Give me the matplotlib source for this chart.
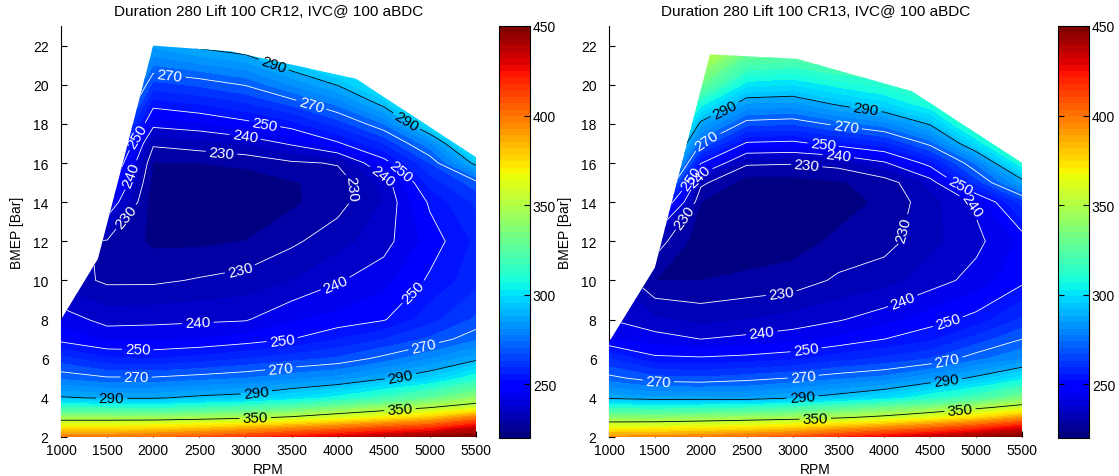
import numpy as np
import matplotlib
matplotlib.use('Agg')
import matplotlib.pyplot as plt
from matplotlib.patches import Polygon
from matplotlib.path import Path
from matplotlib.colors import Normalize
from matplotlib.cm import ScalarMappable

plt.rcParams['font.family'] = ['Liberation Sans', 'DejaVu Sans']

# speed / load grid of the map
rpm = [1000, 1500, 2000, 2500, 3000, 3500, 4000, 4500, 5000, 5500]
bmep = [2, 2.5, 3, 3.5, 4, 5, 6, 7, 8, 10, 12, 14, 15, 16, 17, 18, 19, 20, 21, 22]

# BSFC [g/kWh], one list per rpm column, values follow the bmep rows
bsfc_cr12 = [
    [398, 370, 342, 314, 291, 274, 262, 248, 243, 233, 231, 236, 238, 242, 248, 255, 262, 270, 278, 286],
    [398, 370, 342, 314, 289, 271, 256, 244, 238, 229, 229.5, 246, 255, 264, 273, 285, 298, 310, 320, 330],
    [402, 372, 342, 312, 289, 271, 255, 244, 238.5, 229, 224, 222, 223, 225, 231, 242, 252, 263, 275, 286],
    [408, 376, 344, 316, 292, 273, 257, 245, 239, 230.5, 224, 221, 222, 225, 233, 244, 255, 266, 279, 292],
    [415, 382, 347, 320, 294, 275, 260, 247, 239.5, 232, 225, 222, 222.5, 226, 235.5, 248, 259, 270.5, 283, 296],
    [424, 390, 352, 326, 300, 279, 263, 250, 244.5, 235, 229, 224, 224.5, 229, 241, 253, 266, 280.5, 294, 307],
    [432, 398, 360, 334, 307, 282, 266, 255, 246.5, 239.5, 233, 228, 227, 230.5, 249, 262, 276, 290.5, 304, 318],
    [440, 408, 368, 342, 317, 289, 272, 260, 249.5, 243, 238, 235.5, 236.5, 247, 260, 275, 292, 306, 320, 334],
    [447, 415, 379, 350, 328, 296, 280, 266, 258, 251, 247, 251, 257, 265, 279, 302, 318, 332, 346, 360],
    [450, 432, 398, 358, 340, 310, 288, 274, 266, 258, 256, 261, 268, 293, 312, 330, 345, 360, 375, 390],
]
bsfc_cr13 = [
    [392, 364, 338, 312, 288.5, 272, 260, 245, 240, 236, 234, 238, 242, 248, 256, 265, 275, 285, 296, 307],
    [394, 365, 338, 311, 286, 267, 251.5, 242.5, 236, 225, 233, 266, 300, 320, 335, 350, 365, 380, 395, 410],
    [397, 367, 340, 312, 286, 266, 251, 240, 233.5, 225, 222, 225, 231.5, 250.5, 270, 287.5, 307, 330, 345, 360],
    [402, 370, 342, 314, 285.5, 268, 252, 241.5, 235, 226, 222, 221, 222.5, 231, 249, 267, 284, 302, 320, 338],
    [408, 375, 344, 318, 289.5, 270.5, 254, 243, 237, 227, 223, 221, 222.5, 230.5, 248, 265.5, 283, 300, 317, 334],
    [418, 383, 348, 324, 294, 274, 258, 246, 239.5, 231, 226, 223, 224.5, 232, 253, 272, 291, 307, 322, 337],
    [428, 392, 354, 330, 300, 277, 261, 250, 243, 233, 228, 226, 227, 239, 258, 278, 298, 312, 326, 340],
    [437, 402, 363, 337, 310, 284, 265, 254, 247.5, 237.5, 233.5, 233, 236.5, 253, 272, 291, 309, 325, 340, 355],
    [445, 414, 374, 347, 320, 292, 273.5, 262, 252, 242, 238.5, 241, 262, 276, 300, 320, 338, 355, 370, 385],
    [450, 428, 390, 357, 334, 303, 280, 270, 261, 248.5, 246, 262, 286, 310, 330, 350, 368, 385, 400, 415],
]

# full load (max BMEP) line of each engine
wot_rpm_cr12 = [1000, 1400, 2000, 2850, 4200, 5500]
wot_bmep_cr12 = [8.0, 11.1, 22.0, 21.7, 20.3, 16.3]
wot_rpm_cr13 = [1000, 1500, 2100, 3050, 4300, 5500]
wot_bmep_cr13 = [6.85, 10.66, 21.55, 21.32, 19.67, 16.0]

titles = ['Duration 280 Lift 100 CR12, IVC@ 100 aBDC',
          'Duration 280 Lift 100 CR13, IVC@ 100 aBDC']
line_levels = [230, 240, 250, 270, 290, 350]
line_colors = ['w', 'w', 'w', 'w', 'k', 'k']
fill_levels = np.arange(220, 455, 5)
cbar_ticks = [250, 300, 350, 400, 450]

cmap = plt.get_cmap('jet', 64)
norm = Normalize(vmin=220, vmax=450)


def label_spots(ax, lines, outline, spacing=145.0, start=30.0):
    # evenly spaced label positions along the visible part of every contour
    spots = []
    for path in lines.get_paths():
        for seg in path.to_polygons(closed_only=False):
            if len(seg) < 2:
                continue
            keep = outline.contains_points(seg).astype(int)
            edges = np.flatnonzero(np.diff(np.r_[0, keep, 0]))
            for a, b in zip(edges[::2], edges[1::2]):
                run = seg[a:b]
                if len(run) < 2:
                    continue
                px = ax.transData.transform(run)
                dist = np.r_[0, np.cumsum(np.hypot(*np.diff(px, axis=0).T))]
                s = start
                while s < dist[-1] - 20:
                    spots.append((np.interp(s, dist, run[:, 0]),
                                  np.interp(s, dist, run[:, 1])))
                    s += spacing
    return spots


def draw_map(ax, cax, z, wot_rpm, wot_bmep, title):
    ax.set_xlim(1000, 5500)
    ax.set_ylim(2, 23)
    X, Y = np.meshgrid(rpm, bmep)
    Z = np.array(z, dtype=float).T

    verts = list(zip(wot_rpm, wot_bmep)) + [(wot_rpm[-1], bmep[0]), (wot_rpm[0], bmep[0])]
    outline = Path(verts)
    clip = Polygon(verts, closed=True, transform=ax.transData)

    fill = ax.contourf(X, Y, Z, levels=fill_levels, cmap=cmap, norm=norm)
    fill.set_clip_path(clip)
    lines = ax.contour(X, Y, Z, levels=line_levels, colors=line_colors, linewidths=0.6)
    lines.set_clip_path(clip)
    spots = label_spots(ax, lines, outline)
    ax.clabel(lines, manual=spots, inline=True, inline_spacing=3, fmt='%d', fontsize=11)

    ax.set_xticks(rpm)
    ax.set_yticks(range(2, 23, 2))
    ax.set_axisbelow(True)
    for side in ['top', 'right', 'bottom']:
        ax.spines[side].set_visible(False)
    ax.spines['left'].set_zorder(0.5)
    ax.tick_params(direction='in', length=4, labelsize=10, pad=4)
    ax.tick_params(axis='y', pad=9)
    ax.set_xlabel('RPM', fontsize=10, labelpad=4)
    ax.set_ylabel('BMEP [Bar]', fontsize=10, labelpad=6)
    ax.set_title(title, fontsize=11, pad=8)

    cb = plt.colorbar(ScalarMappable(norm=norm, cmap=cmap), cax=cax)
    cb.set_ticks(cbar_ticks)
    cb.outline.set_linewidth(0.8)
    cax.tick_params(direction='in', length=4, left=True, right=True, labelsize=10, pad=2)


fig = plt.figure(figsize=(11.19, 4.77), dpi=100)
ax1 = fig.add_axes([61 / 1119, 39 / 477, 415 / 1119, 411 / 477])
cax1 = fig.add_axes([499 / 1119, 38 / 477, 31 / 1119, 412 / 477])
ax2 = fig.add_axes([609 / 1119, 39 / 477, 413 / 1119, 411 / 477])
cax2 = fig.add_axes([1058 / 1119, 38 / 477, 31 / 1119, 412 / 477])

draw_map(ax1, cax1, bsfc_cr12, wot_rpm_cr12, wot_bmep_cr12, titles[0])
draw_map(ax2, cax2, bsfc_cr13, wot_rpm_cr13, wot_bmep_cr13, titles[1])

fig.savefig('out.png', dpi=100)
